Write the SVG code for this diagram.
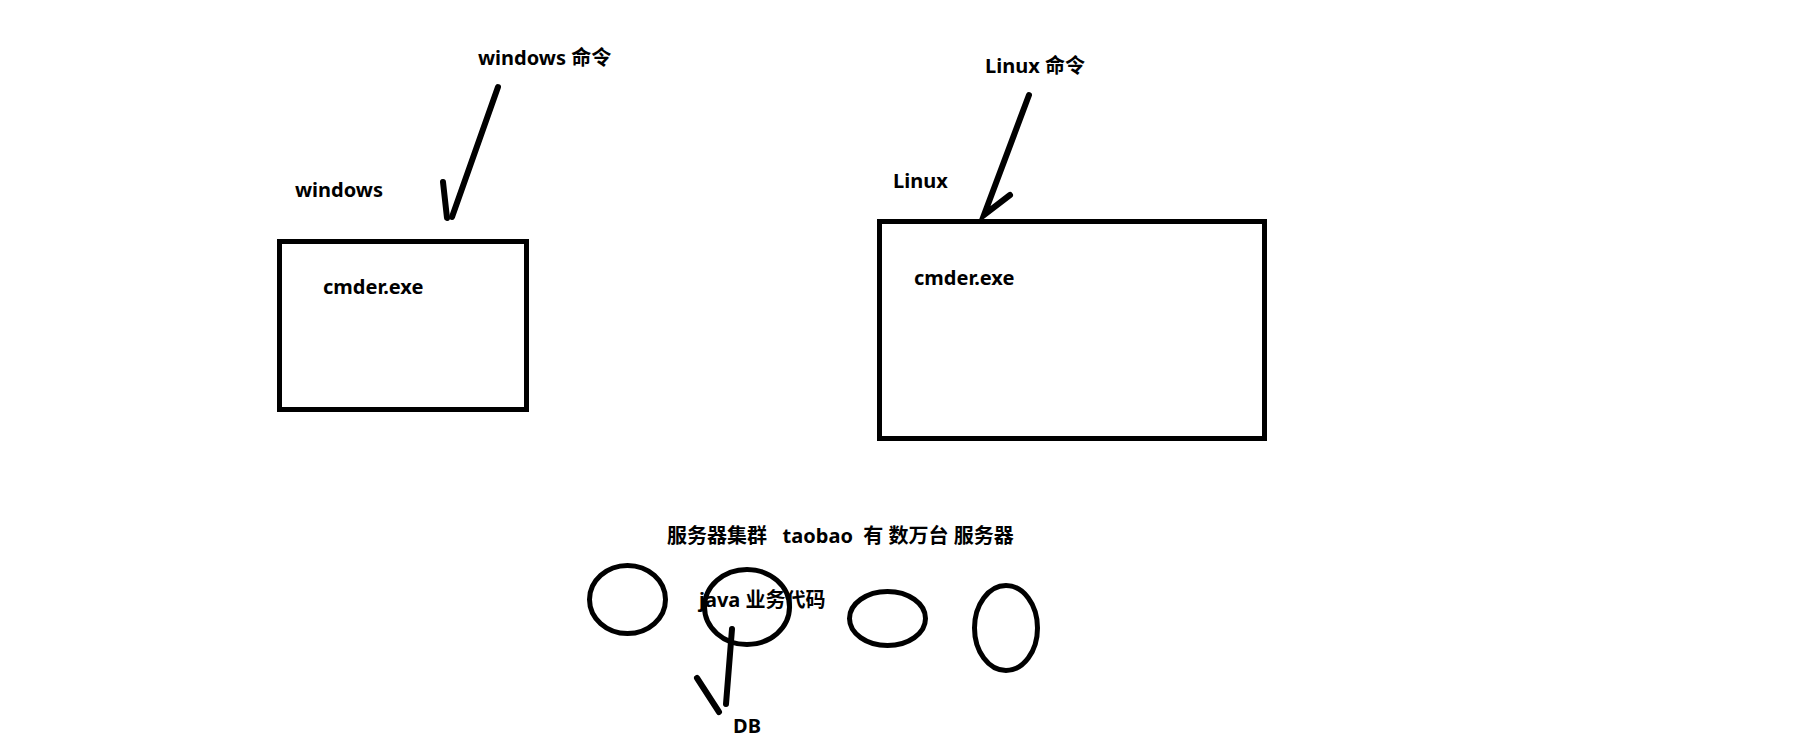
<svg xmlns="http://www.w3.org/2000/svg" width="1807" height="740" viewBox="0 0 1807 740">
<style>
.t{font-family:"Noto Sans","Noto Sans CJK SC",sans-serif;font-weight:bold;font-size:20px;fill:#000}
.s{fill:none;stroke:#000;stroke-width:5}
.c{fill:none;stroke:#000;stroke-width:6;stroke-linecap:round}
</style>
<rect width="1807" height="740" fill="#fff"/>
<g id="labels">
<text class="t" x="478" y="65">windows 命令</text>
<text class="t" x="295" y="197">windows</text>
<text class="t" x="985" y="73">Linux 命令</text>
<text class="t" x="893" y="188">Linux</text>
<text class="t" x="667" y="543" xml:space="preserve" style="white-space:pre">服务器集群   taobao  有 数万台 服务器</text>
</g>
<g id="windows-box">
<rect class="s" x="279.5" y="241.5" width="247" height="168"/>
<text class="t" x="323" y="294">cmder.exe</text>
</g>
<g id="linux-box">
<rect class="s" x="879.5" y="221.5" width="385" height="217"/>
<text class="t" x="914" y="285">cmder.exe</text>
</g>
<g id="server1"><ellipse class="s" cx="627.5" cy="599.5" rx="38" ry="34"/></g>
<g id="server2">
<ellipse class="s" cx="747" cy="607" rx="42.5" ry="37.5"/>
<text class="t" x="699" y="607">java 业务代码</text>
</g>
<g id="server3"><ellipse class="s" cx="887.5" cy="618.5" rx="38" ry="27"/></g>
<g id="server4"><ellipse class="s" cx="1006" cy="628" rx="31.5" ry="42.5"/></g>
<g id="db"><text class="t" x="733" y="733">DB</text></g>
<g id="connectors">
<path class="c" d="M498,87 L452,217"/>
<path class="c" d="M443,182 L447,218"/>
<path class="c" d="M1029,95 L984,215 L1010,195"/>
<path class="c" d="M732,629 L726,704"/>
<path class="c" d="M697,678 L719,712"/>
</g>
</svg>
